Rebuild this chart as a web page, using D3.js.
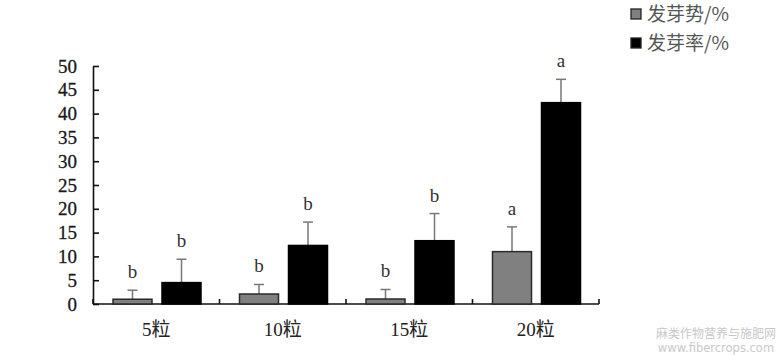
<!DOCTYPE html>
<html><head><meta charset="utf-8">
<script src="https://cdn.jsdelivr.net/npm/d3@7"></script>
<style>body{margin:0;background:#fff}svg{display:block}</style>
</head><body>
<script>
const categories = ["5粒","10粒","15粒","20粒"];
const seriesNames = ["发芽势/%","发芽率/%"];
const vigor = [1.0, 2.1, 1.05, 11.0];
const vigorErr = [1.9, 2.0, 2.0, 5.2];
const rate = [4.5, 12.3, 13.3, 42.3];
const rateErr = [4.9, 4.9, 5.7, 4.9];
const vigorLetters = ["b","b","b","a"];
const rateLetters = ["b","b","b","a"];
const yTicks = [0,5,10,15,20,25,30,35,40,45,50];

const W=783,H=359;
const svg=d3.select("body").append("svg").attr("width",W).attr("height",H);
const x0=93,x1=599,yB=304,yT=66;
const x=d3.scaleBand().domain(categories).range([x0,x1]);
const y=d3.scaleLinear().domain([0,50]).range([yB,yT]);
const serif='"Liberation Serif","Times New Roman","Noto Sans CJK SC",serif';

// y axis
const ya=svg.append("g").attr("transform",`translate(${x0},0)`)
  .call(d3.axisLeft(y).tickValues(yTicks).tickSize(-6).tickPadding(16).tickSizeOuter(0));
ya.select(".domain").attr("stroke","#111").attr("stroke-width",1.6);
ya.selectAll(".tick line").attr("stroke","#111").attr("stroke-width",1.6);
ya.selectAll(".tick text").attr("font-family",serif).attr("font-size",19).attr("fill","#1a1a1a")
  .attr("stroke","#1a1a1a").attr("stroke-width",0.3);

// x axis baseline and boundary ticks
svg.append("line").attr("x1",x0).attr("x2",x1).attr("y1",yB).attr("y2",yB).attr("stroke","#111").attr("stroke-width",1.6);
const bounds=categories.map(c=>x(c)).concat([x1]);
svg.selectAll(".bt").data(bounds).enter().append("line")
  .attr("x1",d=>d).attr("x2",d=>d).attr("y1",yB).attr("y2",yB-5).attr("stroke","#111").attr("stroke-width",1.6);
svg.selectAll(".xl").data(categories).enter().append("text")
  .attr("x",d=>x(d)+x.bandwidth()/2).attr("y",336).attr("text-anchor","middle")
  .attr("font-family",serif).attr("font-size",19).attr("fill","#222").text(d=>d);

const bw=39, offs=[20,69];
const series=[
 {vals:vigor,err:vigorErr,letters:vigorLetters,fill:"#808080",stroke:"#2a2a2a"},
 {vals:rate,err:rateErr,letters:rateLetters,fill:"#000",stroke:"#000"}
];
series.forEach((s,si)=>{
  const g=svg.append("g");
  categories.forEach((c,i)=>{
    const bx=x(c)+offs[si];
    const cx=bx+bw/2;
    const top=y(s.vals[i]), etop=y(s.vals[i]+s.err[i]);
    g.append("line").attr("x1",cx).attr("x2",cx).attr("y1",top).attr("y2",etop).attr("stroke","#777").attr("stroke-width",1.5);
    g.append("line").attr("x1",cx-5).attr("x2",cx+5).attr("y1",etop).attr("y2",etop).attr("stroke","#777").attr("stroke-width",1.5);
    g.append("rect").attr("x",bx).attr("y",top).attr("width",bw).attr("height",yB-top)
      .attr("fill",s.fill).attr("stroke",s.stroke).attr("stroke-width",1.5);
    g.append("text").attr("x",cx).attr("y",etop-12).attr("text-anchor","middle")
      .attr("font-family",serif).attr("font-size",19).attr("fill","#333").text(s.letters[i]);
  });
});

// legend
const lg=svg.append("g");
seriesNames.forEach((n,i)=>{
  const ly=14+i*29;
  lg.append("rect").attr("x",631).attr("y",ly-5).attr("width",10).attr("height",10)
    .attr("fill",series[i].fill).attr("stroke","#222").attr("stroke-width",1.3);
  lg.append("text").attr("x",647).attr("y",ly+7).attr("font-family",'"Noto Sans CJK SC",sans-serif')
    .attr("font-size",19).attr("fill","#555").text(n);
});

// watermark
svg.append("text").attr("x",716).attr("y",338).attr("text-anchor","middle").attr("font-family",'"Noto Sans CJK SC",sans-serif')
  .attr("font-size",12).attr("fill","#c8c8c8").text("麻类作物营养与施肥网");
svg.append("text").attr("x",716).attr("y",352).attr("text-anchor","middle").attr("font-family",'"DejaVu Sans",sans-serif')
  .attr("font-size",11.5).attr("fill","#c8c8c8").text("www.fibercrops.com");
</script>
</body></html>
